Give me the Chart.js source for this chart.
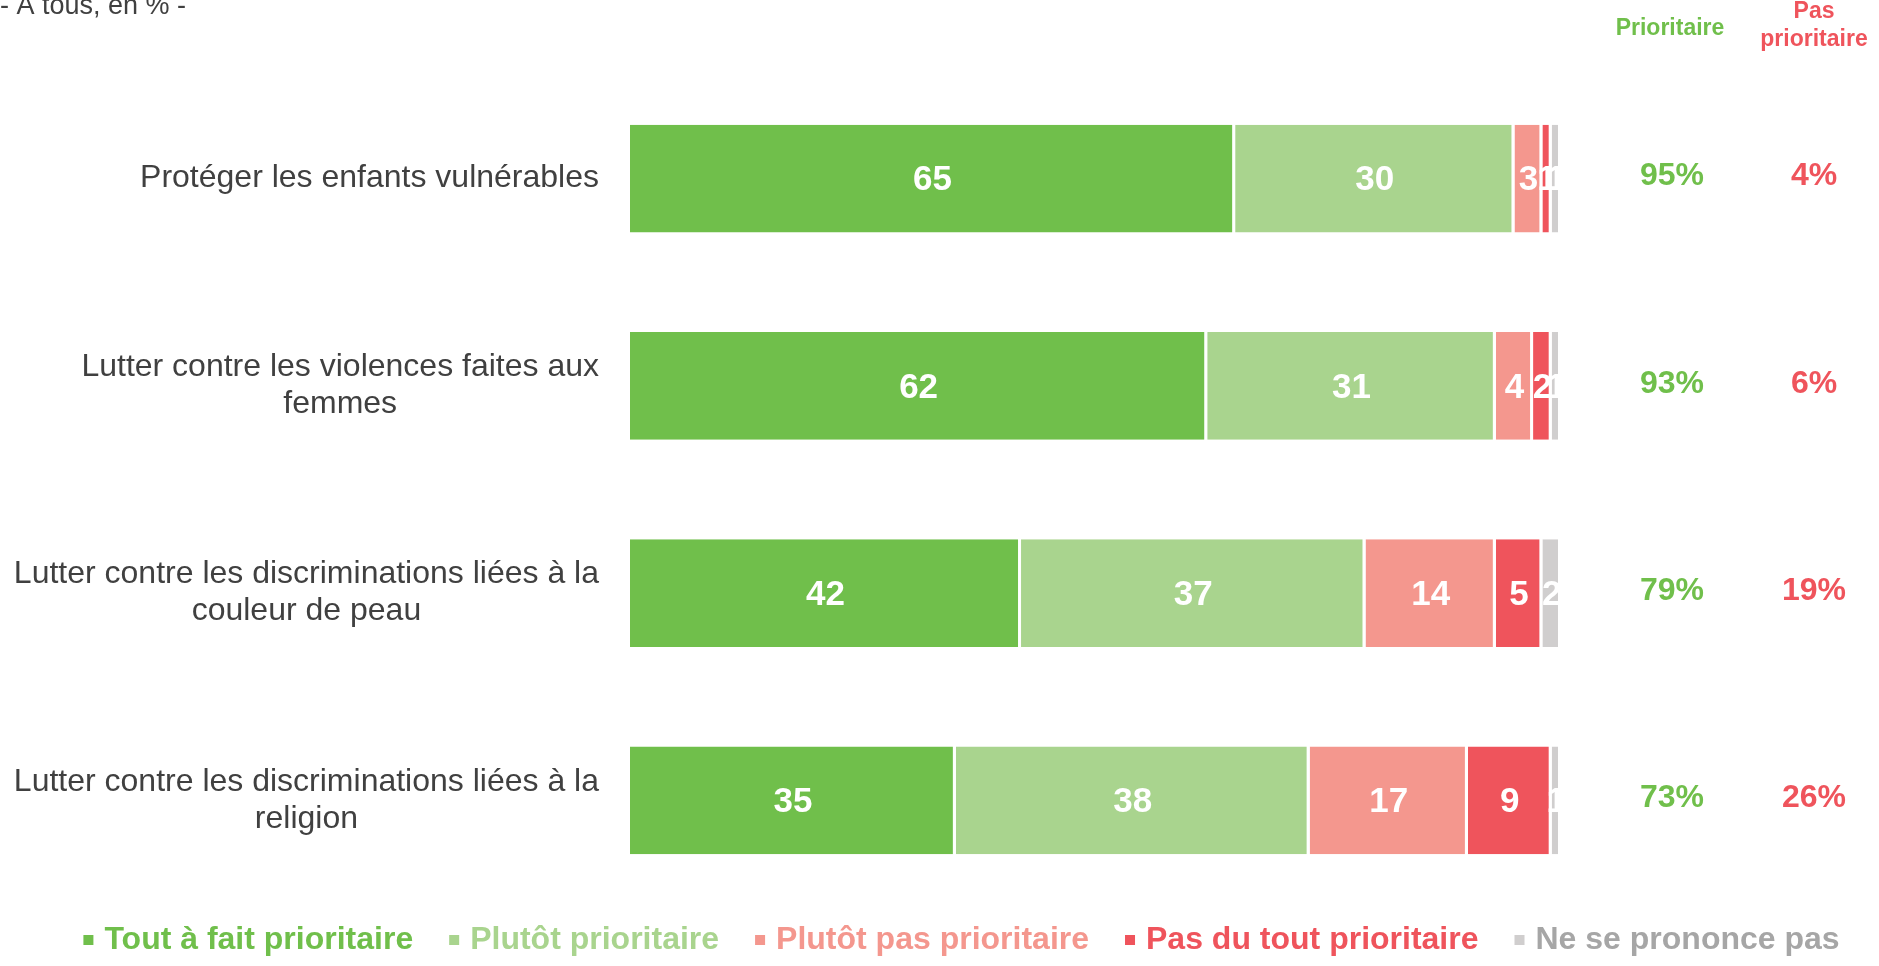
<!DOCTYPE html>
<html>
<head>
<meta charset="utf-8">
<script src="https://cdn.jsdelivr.net/npm/chart.js@4.4.0/dist/chart.umd.min.js"></script>
<style>
  html, body { margin: 0; padding: 0; background: #fff; }
  #wrap { position: relative; width: 1879px; height: 966px; }
</style>
</head>
<body>
<div id="wrap"><canvas id="canvas"></canvas></div>
<script>
// categories (multi-line labels)
const categories = [
  ['Protéger les enfants vulnérables'],
  ['Lutter contre les violences faites aux', 'femmes'],
  ['Lutter contre les discriminations liées à la', 'couleur de peau'],
  ['Lutter contre les discriminations liées à la', 'religion']
];
const toutAFait = [65, 62, 42, 35];
const plutot = [30, 31, 37, 38];
const plutotPas = [3, 4, 14, 17];
const pasDuTout = [1, 2, 5, 9];
const nsp = [1, 1, 2, 1];
const totalPrioritaire = [95, 93, 79, 73];
const totalPasPrioritaire = [4, 6, 19, 26];

const seriesNames = ['Tout à fait prioritaire', 'Plutôt prioritaire', 'Plutôt pas prioritaire', 'Pas du tout prioritaire', 'Ne se prononce pas'];
const colors = ['#70BF4B', '#A9D48E', '#F4978E', '#EF545C', '#D0CECE'];
const legendText = ['#70BF4B', '#A9D48E', '#F4978E', '#EF545C', '#A6A6A6'];
const FONT = '"Liberation Sans", Arial, sans-serif';

const allSeries = [toutAFait, plutot, plutotPas, pasDuTout, nsp];

// value labels inside bars, category labels, right hand columns, legend
const extras = {
  id: 'extras',
  afterDatasetsDraw(chart) {
    const ctx = chart.ctx;
    const area = chart.chartArea;
    const yScale = chart.scales.y;
    ctx.save();
    ctx.beginPath();
    ctx.rect(area.left, area.top, area.right - area.left, area.bottom - area.top);
    ctx.clip();
    ctx.fillStyle = '#fff';
    ctx.font = 'bold 35px ' + FONT;
    ctx.textAlign = 'center';
    ctx.textBaseline = 'middle';
    chart.data.datasets.forEach((ds, i) => {
      chart.getDatasetMeta(i).data.forEach((bar, j) => {
        const x = (bar.x + bar.base) / 2;
        ctx.fillText(ds.data[j], x, bar.y + 2);
      });
    });
    ctx.restore();

    ctx.save();
    ctx.textAlign = 'center';
    ctx.textBaseline = 'middle';

    // category labels: block right-aligned, lines centred in the block
    ctx.font = '32px ' + FONT;
    ctx.fillStyle = '#404040';
    categories.forEach((lines, j) => {
      const y = yScale.getPixelForValue(j);
      const w = Math.max(...lines.map(l => ctx.measureText(l).width));
      const cx = area.left - 31 - w / 2;
      lines.forEach((l, k) => {
        ctx.fillText(l, cx, y + (k - (lines.length - 1) / 2) * 37);
      });
    });

    ctx.font = 'bold 23px ' + FONT;
    ctx.fillStyle = '#70BF4B';
    ctx.fillText('Prioritaire', 1670, 29);
    ctx.fillStyle = '#EF545C';
    ctx.fillText('Pas', 1814, 12);
    ctx.fillText('prioritaire', 1814, 40);

    ctx.font = 'bold 32px ' + FONT;
    categories.forEach((c, j) => {
      const y = yScale.getPixelForValue(j);
      ctx.fillStyle = '#70BF4B';
      ctx.fillText(totalPrioritaire[j] + '%', 1672, y - 2);
      ctx.fillStyle = '#EF545C';
      ctx.fillText(totalPasPrioritaire[j] + '%', 1814, y - 2);
    });

    ctx.textAlign = 'left';
    ctx.textBaseline = 'alphabetic';
    ctx.font = '27px ' + FONT;
    ctx.fillStyle = '#404040';
    ctx.fillText('- A tous, en % -', 0, 14);

    // legend
    ctx.font = 'bold 32px ' + FONT;
    ctx.textBaseline = 'middle';
    const box = 10, gap = 11, space = 36, ly = 940;
    const widths = seriesNames.map(n => ctx.measureText(n).width);
    const total = widths.reduce((a, w) => a + box + gap + w, 0) + space * (seriesNames.length - 1);
    let x = 84 + (1839 - 84 - total) / 2;
    seriesNames.forEach((n, i) => {
      ctx.fillStyle = colors[i];
      ctx.fillRect(x, ly - box / 2, box, box);
      ctx.fillStyle = legendText[i];
      ctx.fillText(n, x + box + gap, ly);
      x += box + gap + widths[i] + space;
    });
    ctx.restore();
  }
};

new Chart(document.getElementById('canvas'), {
  type: 'bar',
  data: {
    labels: categories,
    datasets: allSeries.map((d, i) => ({
      label: seriesNames[i],
      data: d,
      backgroundColor: colors[i],
      borderColor: '#fff',
      borderWidth: { left: 0, right: 3, top: 0, bottom: 0 },
      borderSkipped: false,
      barPercentage: 0.52,
      categoryPercentage: 1
    }))
  },
  options: {
    indexAxis: 'y',
    responsive: true,
    maintainAspectRatio: false,
    animation: false,
    layout: { padding: { left: 0, right: 318, top: 75, bottom: 62 } },
    scales: {
      x: { stacked: true, min: 0, max: 100, display: false },
      y: {
        stacked: true,
        grid: { display: false },
        border: { display: false },
        afterFit(scale) { scale.width = 630; },
        ticks: { display: false }
      }
    },
    plugins: {
      legend: { display: false },
      tooltip: { enabled: false }
    }
  },
  plugins: [extras]
});
</script>
</body>
</html>
